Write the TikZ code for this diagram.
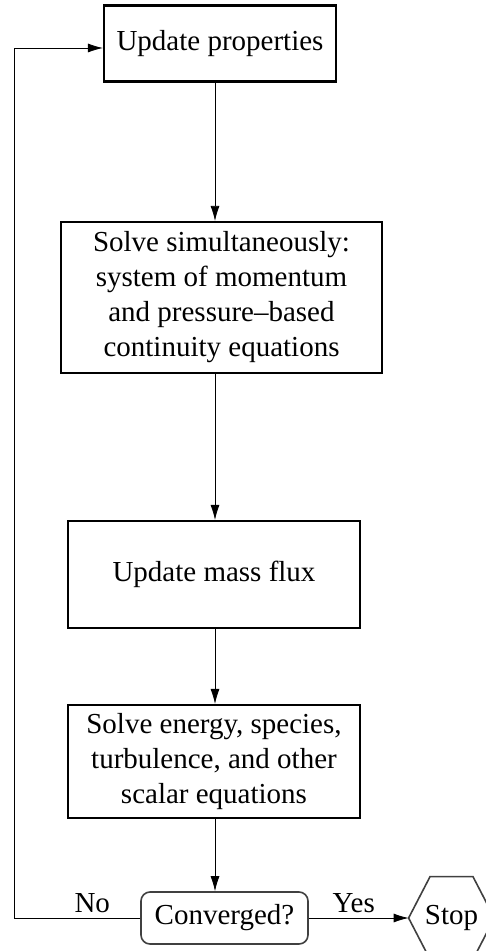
\documentclass[tikz,border=0pt]{standalone}
\usepackage{fontspec}
\setmainfont{Liberation Serif}
\usetikzlibrary{arrows.meta, calc}
\newcommand{\flowfont}{\fontsize{14.5}{17.5}\selectfont}
\tikzset{
  block/.style = {draw, rectangle, line width=1.05pt,
                  align=center, inner sep=2pt, font=\flowfont},
  test/.style  = {draw=black!75, rectangle, rounded corners=4.5pt,
                  line width=0.8pt, minimum width=83.5pt,
                  minimum height=26pt, font=\flowfont},
  endbox/.style = {rectangle, minimum width=42.5pt, minimum height=41pt,
                  inner sep=0pt, font=\flowfont},
  lbl/.style   = {font=\flowfont, inner sep=2.5pt},
  >={Latex[length=7.5pt,width=4.5pt]}, line width=1.05pt
}

\begin{document}
\begin{tikzpicture}[x=0.5pt, y=-0.5pt]
  \useasboundingbox (0,0) rectangle (486,951);
  \clip (0,0) rectangle (486,951);

  %% main column
  \node[block, minimum width=116pt, minimum height=38pt]
        (upd)   at (220,43.5)  {Update properties};
  \node[block, minimum width=160.5pt, minimum height=75.5pt]
        (solve) at (221.5,297.5)
        {Solve simultaneously:\\
         system of momentum\\
         and pressure--based\\
         continuity equations};
  \node[block, minimum width=146pt, minimum height=53.5pt]
        (flux)  at (214,574.5) {Update mass flux};
  \node[block, minimum width=146pt, minimum height=56.5pt]
        (scal)  at (214,761.5)
        {Solve energy, species,\\
         turbulence, and other\\
         scalar equations};
  \node[test]   (conv) at (224.5,918) {Converged?};
  \node[endbox] (stop) at (451.5,918) {Stop};

  %% hexagon round the stop node
  \draw[line width=0.8pt, black!75]
        (stop.west)
     -- ($(stop.north west)!.25!(stop.north east)$)
     -- ($(stop.north west)!.75!(stop.north east)$)
     -- (stop.east)
     -- ($(stop.south west)!.75!(stop.south east)$)
     -- ($(stop.south west)!.25!(stop.south east)$)
     -- cycle;

  %% forward wires
  \coordinate (spine) at (215,0);
  \draw[->] (upd.south -| spine)   -- (solve.north -| spine);
  \draw[->] (solve.south -| spine) -- (flux.north -| spine);
  \draw[->] (flux.south -| spine)  -- (scal.north -| spine);
  \draw[->] (scal.south -| spine)  -- (conv.north -| spine);

  %% exit and feedback
  \draw[->] (conv.east) -- node[lbl, above, pos=0.45]{Yes} (stop.west);
  \coordinate (fbT) at (14,48);
  \draw[->] (conv.west) -| node[lbl, above, pos=0.19]{No} (fbT)
            -- (fbT -| upd.west);
\end{tikzpicture}
\end{document}
